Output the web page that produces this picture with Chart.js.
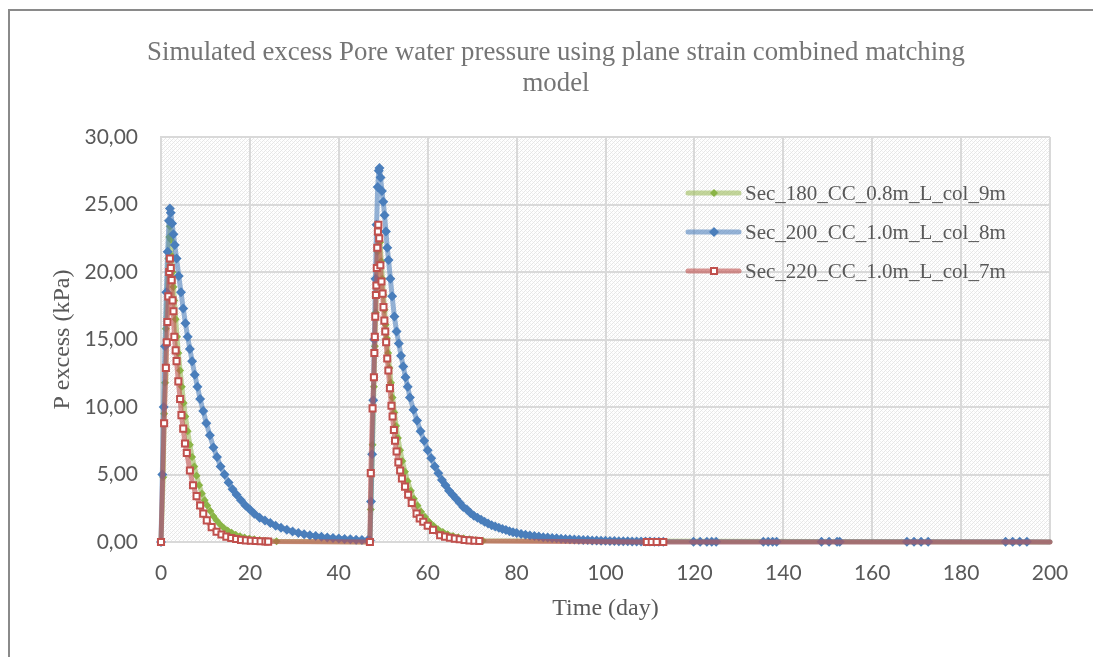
<!DOCTYPE html>
<html>
<head>
<meta charset="utf-8">
<script src="https://cdn.jsdelivr.net/npm/chart.js@4.4.0/dist/chart.umd.min.js"></script>
<style>
  html, body { margin: 0; padding: 0; background: #fff; }
</style>
</head>
<body>
<canvas id="line-chart" width="1093" height="657"></canvas>
<script>
// values (day, kPa)
const seriesNames = ["Sec_180_CC_0.8m_L_col_9m", "Sec_200_CC_1.0m_L_col_8m", "Sec_220_CC_1.0m_L_col_7m"];

const sec180X = [0, 0.5, 0.7, 0.9, 1.1, 1.4, 1.65, 1.85, 2.0, 2.2, 2.4, 2.6, 2.8, 3.0, 3.3, 3.6, 3.9, 4.3, 4.7, 5.1,
  5.5, 6.0, 6.5, 7.0, 7.5, 8.0, 8.6, 9.2, 9.8, 10.4, 11.1, 11.8, 12.5, 13.3, 14.1, 15.0, 15.9, 16.8, 17.8, 18.8,
  19.9, 21.0, 22.2, 23.5, 26.0,
  47.0, 47.2, 47.6, 47.9, 48.1, 48.3, 48.5, 48.7, 48.9, 49.1, 49.3, 49.55, 49.8, 50.05, 50.3, 50.55, 50.8, 51.1, 51.4, 51.75,
  52.1, 52.5, 52.9, 53.3, 53.8, 54.3, 54.9, 55.5, 56.2, 56.9, 57.7, 58.5, 59.4, 60.3, 61.3, 62.3, 63.4, 64.5, 65.7, 66.9,
  68.1, 69.4, 70.8, 72.4, 200];
const sec180Y = [0, 4.8, 9.5, 11.8, 15.8, 18.5, 21.0, 22.6, 23.4, 22.4, 21.2, 20.0, 18.9, 17.9, 16.5, 15.2, 14.0, 12.7, 11.5, 10.3,
  9.3, 8.2, 7.2, 6.3, 5.6, 4.9, 4.2, 3.6, 3.1, 2.7, 2.3, 1.9, 1.6, 1.3, 1.05, 0.85, 0.68, 0.54, 0.42, 0.33,
  0.26, 0.2, 0.15, 0.1, 0.05,
  0, 2.4, 7.2, 11.5, 14.5, 17.0, 19.5, 21.5, 22.7, 23.0, 22.2, 20.8, 19.5, 18.3, 17.2, 16.1, 15.1, 14.0, 12.9, 11.8,
  10.7, 9.6, 8.6, 7.7, 6.8, 6.0, 5.2, 4.5, 3.8, 3.2, 2.7, 2.25, 1.85, 1.5, 1.2, 0.95, 0.75, 0.58, 0.45, 0.35,
  0.27, 0.2, 0.14, 0.1, 0];

const sec200X = [0, 0.3, 0.6, 0.9, 1.2, 1.5, 1.8, 2.0, 2.2, 2.5, 2.8, 3.1, 3.5, 4.0, 4.5, 5.0, 5.5, 6.0, 6.5, 7.0,
  7.6, 8.2, 8.8, 9.5, 10.2, 11.0, 11.8, 12.6, 13.4, 14.3, 15.2, 16.1, 17.0, 18.0, 19.0, 20.0, 21.0, 22.2, 23.4, 24.6,
  25.8, 27.0, 28.3, 29.6, 30.9, 32.2, 33.5, 34.8, 36.1, 37.4, 38.7, 40.0, 41.3, 42.6, 43.9, 45.2, 46.5, 47.0,
  47.25, 47.5, 47.75, 48.0, 48.25, 48.5, 48.75, 49.0, 49.15, 49.4, 49.7, 50.0, 50.3, 50.6, 50.9, 51.2, 51.6, 52.0, 52.5, 53.0,
  53.5, 54.0, 54.5, 55.0, 55.5, 56.0, 56.8, 57.6, 58.4, 59.2, 60.0, 60.8, 61.6, 62.4, 63.2, 64.0, 64.8, 65.6, 66.4, 67.2,
  68.0, 68.8, 69.6, 70.4, 71.2, 72.0, 72.8, 73.6, 74.4, 75.2, 76.0, 76.8, 77.6, 78.4, 79.2, 80.0,
  81, 82, 83, 84, 85, 86, 87, 88, 89, 90, 91, 92, 93, 94, 95, 96, 97, 98, 99, 100,
  101, 102, 103, 104, 105, 106, 107, 108, 109, 110, 111, 112, 113,
  119.8, 121.3, 122.8, 123.9, 124.9, 135.5, 136.6, 137.6, 138.5, 148.6, 150.3, 152.1, 152.7,
  167.8, 169.4, 171.0, 172.6, 190.0, 191.6, 193.2, 194.8, 200];
const sec200Y = [0, 5.0, 10.0, 14.5, 18.5, 21.5, 23.8, 24.7, 24.4, 23.6, 22.8, 22.0, 21.0, 19.7, 18.5, 17.3, 16.2, 15.2, 14.3, 13.4,
  12.4, 11.5, 10.6, 9.7, 8.8, 7.9, 7.0, 6.3, 5.6, 5.0, 4.4, 3.9, 3.5, 3.1, 2.7, 2.4, 2.1, 1.8, 1.6, 1.4,
  1.2, 1.05, 0.9, 0.78, 0.67, 0.58, 0.5, 0.44, 0.38, 0.33, 0.29, 0.26, 0.22, 0.2, 0.17, 0.15, 0.13, 0.12,
  3.0, 6.5, 10.5, 15.0, 19.5, 23.5, 26.3, 27.5, 27.7, 27.0, 26.0, 25.2, 24.2, 23.0, 21.8, 20.9, 19.5, 18.2, 16.7, 15.6,
  14.7, 13.8, 13.0, 12.2, 11.5, 10.7, 9.8, 9.0, 8.2, 7.5, 6.8, 6.2, 5.6, 5.1, 4.6, 4.2, 3.8, 3.5, 3.2, 2.9,
  2.6, 2.4, 2.15, 1.95, 1.8, 1.65, 1.5, 1.37, 1.25, 1.15, 1.05, 0.96, 0.88, 0.8, 0.73, 0.67,
  0.6, 0.54, 0.49, 0.44, 0.4, 0.36, 0.33, 0.3, 0.27, 0.25, 0.22, 0.2, 0.18, 0.17, 0.15, 0.14, 0.12, 0.11, 0.1, 0.09,
  0.08, 0.07, 0.06, 0.05, 0.05, 0.04, 0.04, 0.03, 0.03, 0.03, 0.02, 0.02, 0.02,
  0.01, 0.01, 0.01, 0.01, 0.01, 0.01, 0.01, 0.01, 0.01, 0.01, 0.01, 0.01, 0.01,
  0.01, 0.01, 0.01, 0.01, 0.01, 0.01, 0.01, 0.01, 0];

const sec220X = [0, 0.7, 1.1, 1.3, 1.45, 1.65, 1.85, 2.0, 2.2, 2.4, 2.6, 2.8, 3.0, 3.3, 3.5, 3.9, 4.3, 4.6, 5.0, 5.4,
  5.8, 6.5, 7.2, 8.0, 8.8, 9.5, 10.3, 11.4, 12.5, 13.6, 14.7, 15.8, 16.9, 18.0, 19.1, 20.2, 21.3, 22.4, 23.5, 24.1,
  47.0, 47.2, 47.6, 47.9, 48.0, 48.1, 48.2, 48.35, 48.45, 48.55, 48.65, 48.8, 48.9, 49.1, 49.35, 49.6, 49.85, 50.05, 50.25, 50.45,
  50.65, 50.9, 51.15, 51.5, 51.85, 52.1, 52.4, 52.65, 53.0, 53.4, 53.8, 54.2, 54.9, 55.6, 56.4, 57.5, 58.2, 59.0, 60.0, 61.2,
  62.8, 63.9, 65.0, 66.1, 67.2, 68.3, 69.4, 70.5, 71.6, 109.3, 110.4, 111.5, 113.0, 200];
const sec220Y = [0, 8.8, 12.9, 14.8, 16.3, 18.2, 20.0, 21.0, 20.3, 19.4, 17.9, 17.1, 15.2, 14.2, 13.4, 11.9, 10.6, 9.4, 8.4, 7.3,
  6.6, 5.3, 4.2, 3.4, 2.7, 2.1, 1.6, 1.1, 0.76, 0.55, 0.4, 0.3, 0.22, 0.16, 0.12, 0.09, 0.07, 0.05, 0.04, 0.03,
  0, 5.1, 9.9, 12.2, 14.0, 15.2, 16.7, 18.3, 19.0, 20.3, 21.8, 23.0, 23.5, 22.5, 20.5, 19.3, 18.4, 17.4, 16.4, 15.6,
  14.8, 13.6, 12.7, 11.4, 10.1, 9.3, 8.3, 7.5, 6.7, 5.9, 5.3, 4.7, 4.1, 3.5, 2.9, 2.1, 1.75, 1.5, 1.2, 0.9,
  0.5, 0.4, 0.32, 0.25, 0.2, 0.15, 0.12, 0.09, 0.07, 0, 0, 0, 0, 0];

const toPoints = (xs, ys) => xs.map((x, i) => ({ x: x, y: ys[i] }));

// faint stippled hatch of the plot area
const tile = document.createElement('canvas');
tile.width = 4; tile.height = 4;
const tc = tile.getContext('2d');
tc.fillStyle = '#ffffff'; tc.fillRect(0, 0, 4, 4);
tc.fillStyle = '#e6e6e6';
tc.fillRect(0, 3, 1, 1); tc.fillRect(1, 2, 1, 1); tc.fillRect(2, 1, 1, 1); tc.fillRect(3, 0, 1, 1);
tc.fillStyle = '#f2f2f2';
tc.fillRect(2, 3, 1, 1); tc.fillRect(0, 1, 1, 1);

const styles = [
  { line: 'rgba(155,187,89,0.6)', fill: '#8ab446', stroke: '#8ab446', shape: 'diamond', r: 4 },
  { line: 'rgba(79,129,189,0.6)', fill: '#4a7ebb', stroke: '#4a7ebb', shape: 'diamond', r: 5 },
  { line: 'rgba(192,80,77,0.6)', fill: '#ffffff', stroke: '#c0504d', shape: 'square', r: 4.3 }
];

const framePlugin = {
  id: 'frame',
  beforeDraw(chart) {
    const ctx = chart.ctx, a = chart.chartArea;
    ctx.save();
    ctx.fillStyle = '#ffffff';
    ctx.fillRect(0, 0, chart.width, chart.height);
    ctx.strokeStyle = '#8a8a8a';
    ctx.lineWidth = 2;
    ctx.strokeRect(9, 10, 1200, 800);
    ctx.fillStyle = ctx.createPattern(tile, 'repeat');
    ctx.fillRect(a.left, a.top, a.right - a.left, a.bottom - a.top);
    ctx.restore();
  }
};

function marker(ctx, s, x, y) {
  ctx.beginPath();
  if (s.shape === 'diamond') {
    ctx.moveTo(x, y - s.r); ctx.lineTo(x + s.r, y); ctx.lineTo(x, y + s.r); ctx.lineTo(x - s.r, y);
    ctx.closePath();
    ctx.fillStyle = s.fill; ctx.fill();
  } else {
    ctx.rect(x - 3, y - 3, 6, 6);
    ctx.fillStyle = s.fill; ctx.fill();
    ctx.lineWidth = 2; ctx.strokeStyle = s.stroke; ctx.stroke();
  }
}

const legendPlugin = {
  id: 'innerLegend',
  afterDraw(chart) {
    const ctx = chart.ctx;
    const rows = [193, 232, 271];
    ctx.save();
    seriesNames.forEach((name, i) => {
      const s = styles[i], y = rows[i];
      ctx.strokeStyle = s.line;
      ctx.lineWidth = 5;
      ctx.lineCap = 'round';
      ctx.beginPath(); ctx.moveTo(688, y); ctx.lineTo(739, y); ctx.stroke();
      marker(ctx, s, 714, y);
      ctx.fillStyle = '#595959';
      ctx.font = '21px "Liberation Serif"';
      ctx.textBaseline = 'middle';
      ctx.fillText(name, 745, y + 1);
    });
    ctx.restore();
  }
};

function dataset(i, xs, ys) {
  const s = styles[i];
  return {
    label: seriesNames[i],
    data: toPoints(xs, ys),
    showLine: true,
    borderColor: s.line,
    borderWidth: 5,
    borderJoinStyle: 'round',
    borderCapStyle: 'round',
    tension: 0,
    clip: 12,
    pointStyle: s.shape === 'diamond' ? 'rectRot' : 'rect',
    pointRadius: ctx => (ctx.raw && ctx.raw.x >= 200) ? 0 : s.r,
    pointBackgroundColor: s.fill,
    pointBorderColor: s.stroke,
    pointBorderWidth: s.shape === 'diamond' ? 0 : 2,
    order: 3 - i
  };
}

const tickFont = { family: 'Lato', size: 21 };
const axisTitleFont = { family: 'Liberation Serif', size: 24 };

new Chart(document.getElementById('line-chart'), {
  type: 'scatter',
  data: {
    datasets: [
      dataset(0, sec180X, sec180Y),
      dataset(1, sec200X, sec200Y),
      dataset(2, sec220X, sec220Y)
    ]
  },
  options: {
    responsive: false,
    animation: false,
    layout: { padding: { left: 62, right: 43, top: 0, bottom: 0 } },
    plugins: {
      legend: { display: false },
      tooltip: { enabled: false },
      title: {
        display: true,
        text: ['Simulated excess Pore water pressure using plane strain combined matching', 'model'],
        color: '#757575',
        font: { family: 'Liberation Serif', size: 26.8, weight: 'normal', lineHeight: 1.16 },
        padding: { top: 37.5, bottom: 37.4 }
      }
    },
    scales: {
      x: {
        type: 'linear', min: 0, max: 200,
        ticks: { stepSize: 20, font: tickFont, color: '#595959', padding: 19 },
        grid: { color: '#d9d9d9', lineWidth: 2, drawTicks: false },
        border: { color: '#d9d9d9', width: 2 },
        title: { display: true, text: 'Time (day)', color: '#595959', font: axisTitleFont, padding: { top: 0, bottom: 34 } },
        afterFit: s => { s.height = 115; }
      },
      y: {
        min: 0, max: 30,
        ticks: { stepSize: 5, font: tickFont, color: '#595959', padding: 23,
          callback: v => v.toFixed(2).replace('.', ',') },
        grid: { color: '#d9d9d9', lineWidth: 2, drawTicks: false },
        border: { color: '#d9d9d9', width: 2 },
        title: { display: true, text: 'P excess (kPa)', color: '#595959', font: axisTitleFont, padding: { top: -13.4, bottom: 0 } },
        afterFit: s => { s.width = 99; }
      }
    }
  },
  plugins: [framePlugin, legendPlugin]
});
</script>
</body>
</html>
